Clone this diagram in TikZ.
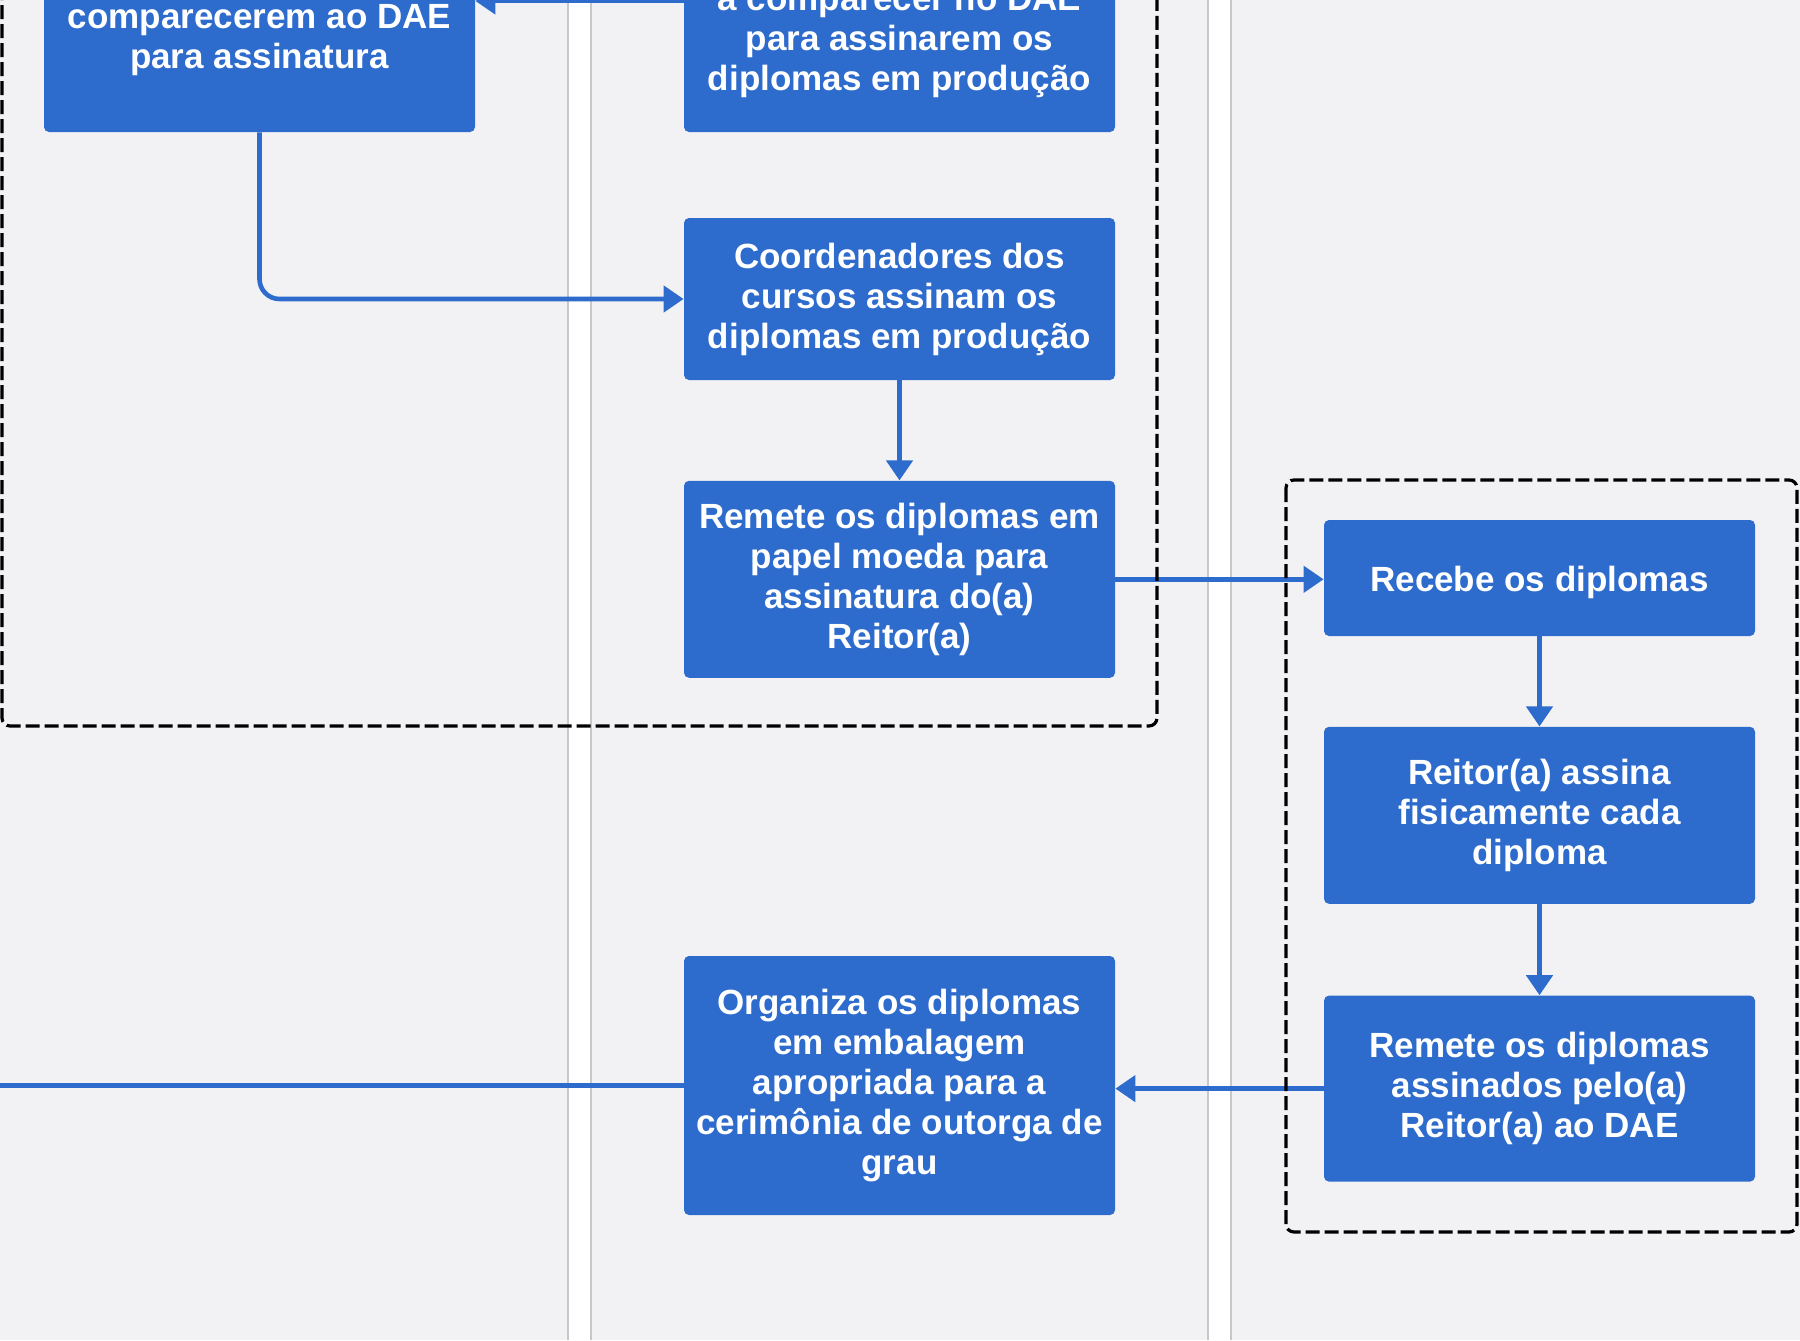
\documentclass[tikz,border=0pt]{standalone}
\usepackage{fontspec}
\setmainfont{Liberation Sans}
\usetikzlibrary{positioning, arrows.meta}
\definecolor{laneback}{RGB}{242,242,244}
\definecolor{laneline}{RGB}{200,200,204}
\definecolor{boxblue}{RGB}{45,107,205}

\begin{document}
\begin{tikzpicture}[x=0.5pt, y=-0.5pt,
    box/.style={fill=boxblue, rounded corners=2.5pt, minimum width=215.5pt, align=center,
        inner sep=2pt, text=white, font=\bfseries\fontsize{17.5}{20}\selectfont,
        execute at begin node={\rule{0pt}{17.5pt}}, execute at end node={\rule[-3.5pt]{0pt}{3.5pt}}},
    flow/.style={draw=boxblue, line width=2.3pt, -{Triangle[length=10pt, width=13pt]}},
    group/.style={draw=black, line width=1.6pt, dash pattern=on 7pt off 2.5pt, rounded corners=4pt}]
    \useasboundingbox (0,0) rectangle (1800,1340);
    \clip (0,0) rectangle (1800,1340);
    \fill[laneback] (0,0) rectangle (1800,1340);
    \foreach \x in {568, 1208} {
        \fill[white] (\x,0) rectangle ++(23,1340);
        \draw[laneline, line width=0.6pt] (\x,0) -- ++(0,1340) (\x+23,0) -- ++(0,1340);
    }

    \node[box, minimum height=91.5pt] (invite) at (259.5,40.5) {comparecerem ao DAE\\para assinatura};
    \node[box, minimum height=89.5pt] (call) at (899.5,42.5)
        {a comparecer no DAE\\para assinarem os\\diplomas em produção};
    \node[box, minimum height=81pt] (sign) at (899.5,299)
        {Coordenadores dos\\cursos assinam os\\diplomas em produção};
    \node[box, minimum height=98.5pt, below=50pt of sign] (send)
        {Remete os diplomas em\\papel moeda para\\assinatura do(a)\\Reitor(a)};
    \node[box, minimum height=58pt] (receive) at (1539.5,578) {Recebe os diplomas};
    \node[box, minimum height=88.5pt, below=45pt of receive] (rector)
        {Reitor(a) assina\\fisicamente cada\\diploma};
    \node[box, minimum height=93pt, below=45.5pt of rector] (back)
        {Remete os diplomas\\assinados pelo(a)\\Reitor(a) ao DAE};
    \node[box, minimum height=129.5pt] (pack) at (899.5,1085.5)
        {Organiza os diplomas\\em embalagem\\apropriada para a\\cerimônia de outorga de\\grau};
    \coordinate (exit) at (-20,1085.5);

    \draw[flow] (call.west |- 0,1) -- (invite.east |- 0,1);
    \draw[flow, rounded corners=10pt] (invite.south) |- (sign.west);
    \draw[flow] (sign) -- (send);
    \draw[flow] (send.east) -- (send.east -| receive.west);
    \draw[flow] (receive) -- (rector);
    \draw[flow] (rector) -- (back);
    \draw[flow] (back.west) -- (back.west -| pack.east);
    \draw[boxblue, line width=2.3pt] (pack.west) -- (exit);

    \draw[group] (2,-60) rectangle (1157,726);
    \draw[group] (1286,480) rectangle (1797,1232);
\end{tikzpicture}
\end{document}
